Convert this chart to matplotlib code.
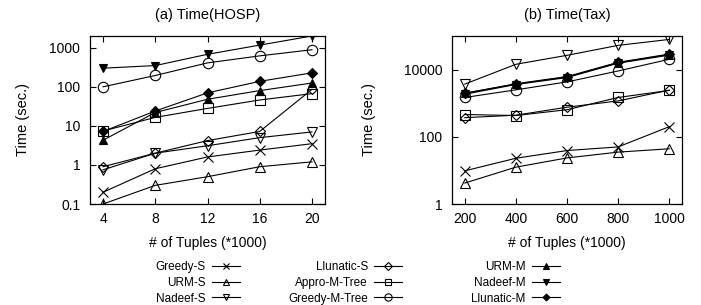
import matplotlib
matplotlib.use("Agg")
import matplotlib.pyplot as plt
from matplotlib.ticker import FixedLocator, NullLocator, FixedFormatter

plt.rcParams['font.family'] = ['Liberation Sans', 'DejaVu Sans']

# ---- data ----
hosp_x = [4, 8, 12, 16, 20]
tax_x = [200, 400, 600, 800, 1000]

# (a) HOSP, seconds
greedy_s_hosp = [0.2, 0.8, 1.6, 2.4, 3.5]
urm_s_hosp = [0.1, 0.3, 0.5, 0.9, 1.2]
nadeef_s_hosp = [0.75, 2.0, 3.1, 5.0, 7.0]
llunatic_s_hosp = [0.9, 2.0, 4.2, 7.2, 86]
appro_tree_hosp = [7.4, 16.5, 28, 46, 67]
greedy_tree_hosp = [100, 195, 410, 620, 890]
urm_m_hosp = [4.3, 22, 48, 80, 125]
nadeef_m_hosp = [300, 350, 680, 1170, 2000]
llunatic_m_hosp = [7.2, 24, 70, 138, 228]

# (b) Tax, seconds
greedy_s_tax = [9.7, 23, 39, 50, 200]
urm_s_tax = [4.2, 12.5, 23.5, 35, 44]
nadeef_s_tax = [3700, 14400, 26600, 52600, 79000]
llunatic_s_tax = [370, 440, 760, 1170, 2450]
appro_tree_tax = [460, 430, 640, 1480, 2400]
greedy_tree_tax = [1480, 2500, 4300, 9100, 20300]
urm_m_tax = [2000, 3700, 6000, 16000, 28000]
nadeef_m_tax = [1850, 3600, 5800, 15500, 27000]
llunatic_m_tax = [1950, 3800, 6200, 16500, 29000]

labels = ['Greedy-S', 'URM-S', 'Nadeef-S', 'Llunatic-S', 'Appro-M-Tree',
          'Greedy-M-Tree', 'URM-M', 'Nadeef-M', 'Llunatic-M']
hosp_series = [greedy_s_hosp, urm_s_hosp, nadeef_s_hosp, llunatic_s_hosp, appro_tree_hosp,
               greedy_tree_hosp, urm_m_hosp, nadeef_m_hosp, llunatic_m_hosp]
tax_series = [greedy_s_tax, urm_s_tax, nadeef_s_tax, llunatic_s_tax, appro_tree_tax,
              greedy_tree_tax, urm_m_tax, nadeef_m_tax, llunatic_m_tax]

# marker, filled?, size
styles = [('x', False, 7), ('^', False, 6.5), ('v', False, 6.5), ('D', False, 5.5),
          ('s', False, 6.5), ('o', False, 7.5), ('^', True, 5.5), ('v', True, 5.5), ('D', True, 5)]

fig = plt.figure(figsize=(7.01, 3.05), dpi=100)
axA = fig.add_axes([90 / 701, 1 - 204 / 305, 235 / 701, 168 / 305])
axB = fig.add_axes([452 / 701, 1 - 204 / 305, 230 / 701, 168 / 305])


def draw(ax, x, series, title, xlim, ylim, yticks, ytlabels, ylabelpad):
    handles = []
    for lab, ys, (m, filled, ms) in zip(labels, series, styles):
        h, = ax.plot(x, ys, color='black', lw=0.8, marker=m, ms=ms, mew=0.8,
                     mfc='black' if filled else 'none', mec='black', label=lab)
        handles.append(h)
    ax.set_yscale('log')
    ax.set_xlim(*xlim)
    ax.set_ylim(*ylim)
    ax.set_xticks(x)
    ax.yaxis.set_major_locator(FixedLocator(yticks))
    ax.yaxis.set_major_formatter(FixedFormatter(ytlabels))
    ax.yaxis.set_minor_locator(NullLocator())
    ax.tick_params(direction='in', top=True, right=True, length=4, width=0.8,
                   labelsize=10)
    ax.tick_params(axis='y', pad=7)
    ax.tick_params(axis='x', pad=6)
    for s in ax.spines.values():
        s.set_linewidth(0.9)
    ax.set_title(title, fontsize=10.5, pad=12)
    ax.set_xlabel('# of Tuples (*1000)', fontsize=10, labelpad=7)
    ax.set_ylabel('Time (sec.)', fontsize=10.5, labelpad=ylabelpad)
    return handles


handles = draw(axA, hosp_x, hosp_series, '(a) Time(HOSP)', (3, 21), (0.1, 2000),
               [0.1, 1, 10, 100, 1000], ['0.1', '1', '10', '100', '1000'], 14)
draw(axB, tax_x, tax_series, '(b) Time(Tax)', (150, 1050), (1, 100000),
     [1, 100, 10000], ['1', '100', '10000'], 20)

# three gnuplot-like legend columns, label on the left of the sample
col_right = [240 / 701, 402 / 701, 560 / 701]
for c in range(3):
    fig.legend(handles=handles[3 * c:3 * c + 3], loc='center right',
               bbox_to_anchor=(col_right[c], 1 - 283 / 305), frameon=False,
               markerfirst=False, fontsize=8.5, handlelength=2.4, handletextpad=0.5,
               labelspacing=0.3, borderpad=0, borderaxespad=0, markerscale=0.7)

fig.savefig('out.png', dpi=100)
